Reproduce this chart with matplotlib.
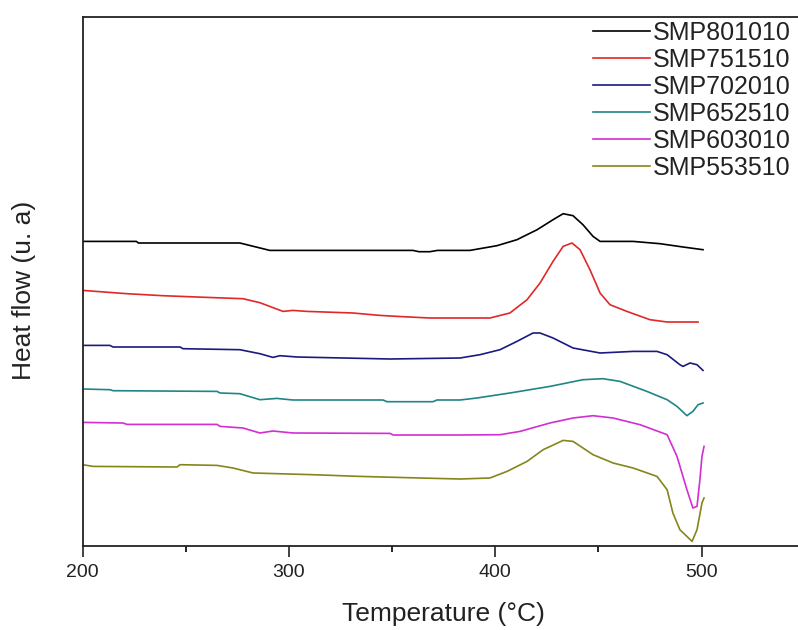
import matplotlib
matplotlib.use("Agg")
import matplotlib.pyplot as plt
from matplotlib.ticker import MultipleLocator

plt.rcParams['font.family'] = ['Liberation Sans', 'DejaVu Sans']

# DSC traces (heat flow in arbitrary units)
labels = ["SMP801010", "SMP751510", "SMP702010", "SMP652510", "SMP603010", "SMP553510"]
colors = ["#000000", "#e02828", "#1a1a80", "#1f8585", "#d22ed2", "#85851a"]

t_801010 = [200, 226, 227, 276.2, 290.7, 360.1, 363, 368.3, 372, 387.7, 400.8, 410.5, 420.3,
            428, 432.9, 437.7, 442.5, 447.4, 450.8, 466.8, 479.9, 491, 500.7]
h_801010 = [304.3, 304.3, 302.7, 302.7, 295.3, 295.3, 294, 294, 295.3, 295.3, 300, 306, 316,
            326, 332, 330, 321, 309.3, 304.3, 304.3, 302, 298.7, 296]

t_751510 = [200, 221.5, 238.9, 260.3, 277.7, 285.9, 297.1, 301.9, 308.7, 331, 344.1, 355.3,
            368.3, 382.9, 397.4, 407.1, 415.4, 421.7, 428, 432.9, 437.2, 441.1, 445.9, 450.8,
            455.6, 463.8, 475, 483.3, 498.3]
h_751510 = [255.3, 252, 250, 248.3, 247, 243, 234.3, 235.3, 234.3, 232.7, 230.3, 229,
            227.7, 227.7, 227.7, 232.7, 246, 262.7, 284.3, 299.3, 302.7, 296, 276, 252.7,
            241, 234.3, 226, 223.7, 223.7]

t_702010 = [200, 213.2, 214.7, 247.2, 248.6, 276.2, 285.9, 292.2, 295.6, 303.9, 349, 382.9,
            392.6, 402.3, 410.5, 418.3, 421.7, 428, 437.7, 450.8, 466.8, 478.4, 483.3, 489.5,
            491, 494.4, 497.8, 500.7]
h_702010 = [200.3, 200.3, 198.7, 198.7, 197, 196, 192, 188.3, 190, 188.7, 186.7, 187.7,
            191, 196, 204.3, 212.7, 212.7, 207.7, 197.7, 192.7, 194.3, 194.3, 191, 181,
            179.3, 182.7, 181, 175.3]

t_652510 = [200, 213.2, 214.7, 265.1, 266.6, 276.2, 285.9, 294.1, 301.9, 345.6, 347.5, 369.8,
            371.7, 382.9, 391.1, 407.1, 426.5, 442.5, 452.2, 460.5, 473.5, 483.3, 488.1, 492.9,
            495.8, 498.3, 500.7]
h_652510 = [156.7, 156, 155, 154.3, 152.7, 152, 146, 147.3, 145.7, 145.7, 144, 144,
            145.7, 145.7, 147.7, 152.7, 159.3, 166, 167, 164.3, 154.3, 146, 139.3, 130,
            134.3, 141, 142.7]

t_603010 = [200, 219.5, 221.5, 265.1, 266.6, 277.7, 285.9, 292.2, 301.9, 349, 350.5, 382.9,
            402.3, 412, 426.5, 437.7, 447.4, 457.1, 470.2, 483.3, 488.1, 492.9, 495.8, 497.8,
            499.2, 500.2, 501.2]
h_603010 = [123.3, 122.7, 121.3, 121.3, 119.3, 117.7, 112.7, 114.7, 112.7, 112.3, 110.7, 110.7,
            111, 114.3, 122.7, 127.7, 130, 127.7, 121, 111, 89.3, 56, 37.7, 39.3,
            66, 89.3, 99.3]

t_553510 = [200, 205, 245.7, 247.2, 265.1, 272.9, 282.6, 311.6, 334.4, 363.5, 382.9, 397.4,
            405.7, 415.4, 423.2, 432.9, 437.7, 447.4, 457.1, 466.8, 478.4, 483.3, 486.1, 489.5,
            495.4, 497.8, 500.2, 501.2]
h_553510 = [81, 79.3, 78.7, 81, 80.3, 77.7, 72.7, 71, 69.3, 67.7, 66.7, 67.7,
            74.3, 84.3, 96, 105.3, 104.3, 91, 82.7, 77.7, 69.3, 56, 32.7, 16,
            4.3, 16, 42.7, 47.7]

temps = [t_801010, t_751510, t_702010, t_652510, t_603010, t_553510]
flows = [h_801010, h_751510, h_702010, h_652510, h_603010, h_553510]

fig = plt.figure(figsize=(7.98, 6.30), dpi=100)
ax = fig.add_axes([82.7 / 798, 84.3 / 630, 722 / 798, 528.7 / 630])

for t, h, lab, c in zip(temps, flows, labels, colors):
    ax.plot(t, h, color=c, lw=1.2, label=lab)

ax.set_xlim(200, 550)
ax.set_ylim(0, 528.7)
ax.xaxis.set_major_locator(MultipleLocator(100))
ax.xaxis.set_minor_locator(MultipleLocator(50))
ax.tick_params(axis='x', which='major', direction='out', length=8, width=1.2,
               labelsize=14, pad=5, colors='#222222')
ax.tick_params(axis='x', which='minor', direction='out', length=4, width=1.2)
ax.set_yticks([])
for s in ax.spines.values():
    s.set_linewidth(1.3)
    s.set_color('#222222')

ax.set_xlabel("Temperature (°C)", fontsize=19, labelpad=15, color='#222222')
fig.text(24 / 798, 1 - 290 / 630, "Heat flow (u. a)", rotation=90, fontsize=19,
         ha='center', va='center', color='#222222')

leg = fig.legend(loc='upper right', bbox_to_anchor=(791 / 798, 1 - 21 / 630),
                 frameon=False, fontsize=18, handlelength=2.3, handletextpad=0.12,
                 labelspacing=0.12, borderaxespad=0, borderpad=0)
for txt in leg.get_texts():
    txt.set_color('#222222')

fig.savefig("out.png", dpi=100)
